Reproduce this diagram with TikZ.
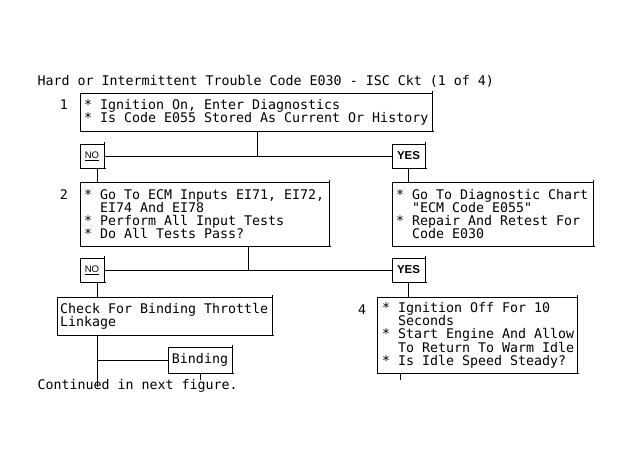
\documentclass[tikz,border=0pt]{standalone}
\usepackage{fontspec}
\setmonofont{DejaVu Sans Mono}
\newfontfamily\lsans{Liberation Sans}
\newcommand\indt{\phantom{**}}
\newcommand\lineT[1]{\mbox{\spaceskip=0pt\xspaceskip=0pt #1}}
\begin{document}
\begin{tikzpicture}[x=1pt,y=-1pt,line width=1pt,
  font=\ttfamily\fontsize{13.3pt}{13pt}\selectfont\frenchspacing,
  ovs/.style={append after command={(\tikzlastnode.north east) edge ++(0,2pt) (\tikzlastnode.south east) edge ++(2pt,0)}},
  box/.style={draw,anchor=north west,outer sep=0pt,inner ysep=0pt,align=left,ovs},
  lab/.style={draw,anchor=north west,outer sep=0pt,inner sep=0pt,minimum height=24pt,ovs},
  nolab/.style={lab,minimum width=24pt,font=\lsans\fontsize{9.5pt}{11pt}\selectfont},
  yeslab/.style={lab,minimum width=33pt,font=\lsans\bfseries\fontsize{11.5pt}{13pt}\selectfont},
  smallbox/.style={draw,anchor=north west,outer sep=0pt,inner sep=0pt,ovs},
  num/.style={inner sep=0pt}
]
\useasboundingbox (0,0) rectangle (631,467);

\node[anchor=base west,inner sep=0pt] (title) at (37,85.5) {Hard or Intermittent Trouble Code E030 - ISC Ckt (1 of 4)};

% step 1
\node[num] (n1) at (64,105) {1};
\node[box,inner xsep=4pt,text width=344pt,minimum height=38pt] (b1) at (80,93)
  {\lineT{* Ignition On, Enter Diagnostics}\\\lineT{* Is Code E055 Stored As Current Or History}};

\node[nolab] (no1) at (80,144) {\underline{NO}};
\node[yeslab] (yes1) at (392,144) {YES};
\coordinate (j1) at (257,156);

% step 2 and right box
\node[num] (n2) at (64,195) {2};
\node[box,inner xsep=4pt,text width=241pt,minimum height=64pt] (b2) at (80,182)
  {\lineT{* Go To ECM Inputs EI71, EI72,}\\\lineT{\indt EI74 And EI78}\\\lineT{* Perform All Input Tests}\\\lineT{* Do All Tests Pass?}};
\node[box,inner xsep=4pt,text width=193pt,minimum height=64pt] (b3) at (392,182)
  {\lineT{* Go To Diagnostic Chart}\\\lineT{\indt "ECM Code E055"}\\\lineT{* Repair And Retest For}\\\lineT{\indt Code E030}};

\node[nolab] (no2) at (80,258) {\underline{NO}};
\node[yeslab] (yes2) at (392,258) {YES};
\coordinate (j2) at (248,270);

% lower boxes
\node[box,inner xsep=3pt,text width=209pt,minimum height=38pt] (chk) at (57,297)
  {\lineT{Check For Binding Throttle}\\\lineT{Linkage}};
\node[smallbox,minimum width=64pt,minimum height=26pt] (bind) at (168,347) {Binding};
\coordinate (cend) at (97,387);
\coordinate (bend) at (200,380);

\node[num] (n4) at (362,310) {4};
\node[box,inner xsep=5pt,text width=190pt,minimum height=76pt] (b4) at (377,297)
  {\lineT{* Ignition Off For 10}\\\lineT{\indt Seconds}\\\lineT{* Start Engine And Allow}\\\lineT{\indt To Return To Warm Idle}\\\lineT{* Is Idle Speed Steady?}};
\coordinate (b4end) at (400,380);

\node[anchor=base west,inner sep=0pt] (cont) at (37,389) {Continued in next figure.};

% connectors
\draw (b1.south -| j1) -- (j1);
\draw (no1.east) -- (yes1.west);
\draw ([xshift=5pt]no1.south) -- ([xshift=5pt]no1.south |- b2.north);
\draw (yes1.south) -- (yes1.south |- b3.north);

\draw (b2.south -| j2) -- (j2);
\draw (no2.east) -- (yes2.west);
\draw ([xshift=5pt]no2.south) -- ([xshift=5pt]no2.south |- chk.north);
\draw (yes2.south) -- (yes2.south |- b4.north);

\draw (chk.south -| cend) -- (cend);
\draw (bind.west -| cend) -- (bind.west);
\draw (bind.south) -- (bend);
\draw (b4.south -| b4end) -- (b4end);
\end{tikzpicture}
\end{document}
